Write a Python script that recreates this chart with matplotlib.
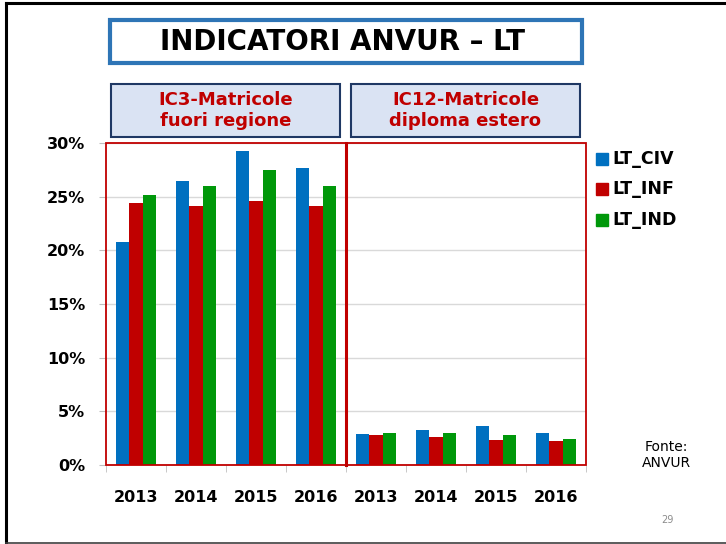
import matplotlib
matplotlib.use("Agg")
import matplotlib.pyplot as plt
from matplotlib.patches import Rectangle
import numpy as np

# ── data ─────────────────────────────────────
years = ["2013", "2014", "2015", "2016"]
series = ["LT_CIV", "LT_INF", "LT_IND"]
ic3_civ = [20.8, 26.5, 29.3, 27.7]
ic3_inf = [24.4, 24.1, 24.6, 24.1]
ic3_ind = [25.2, 26.0, 27.5, 26.0]
ic12_civ = [2.9, 3.3, 3.6, 3.0]
ic12_inf = [2.8, 2.6, 2.3, 2.2]
ic12_ind = [3.0, 3.0, 2.8, 2.4]
yticks = [0, 5, 10, 15, 20, 25, 30]

colors = ["#0070C0", "#C00000", "#00980A"]
W, H = 726, 544

fig = plt.figure(figsize=(W / 100, H / 100), dpi=100, facecolor="white")

def fx(px):
    return px / W

def fy(py):
    return 1 - py / H

# slide frame
fig.add_artist(plt.Line2D([fx(6), fx(6)], [fy(3), fy(543)], color="black", lw=2.2))
fig.add_artist(plt.Line2D([fx(6), 1], [fy(3), fy(3)], color="black", lw=2.2))
fig.add_artist(plt.Line2D([fx(6), 1], [fy(543), fy(543)], color="#404040", lw=1.2))

# ── chart ───────────────────────────────────
ax = fig.add_axes([fx(106), fy(465), fx(586) - fx(106), fy(143) - fy(465)])
labels = years + years
x = np.arange(len(labels))
civ = ic3_civ + ic12_civ
inf = ic3_inf + ic12_inf
ind = ic3_ind + ic12_ind
bw = 0.222
for i, (vals, c) in enumerate(zip([civ, inf, ind], colors)):
    ax.bar(x + (i - 1) * bw, vals, width=bw, color=c, edgecolor="none",
           label=series[i], zorder=3)

ax.set_xlim(-0.5, len(labels) - 0.5)
ax.set_ylim(0, 30)
ax.set_yticks(yticks)
ax.set_yticklabels([f"{v}%" for v in yticks], fontsize=11.5, fontweight="bold")
ax.set_xticks(x)
ax.set_xticklabels(labels, fontsize=11.5, fontweight="bold")
ax.set_xticks(np.arange(-0.5, len(labels)), minor=True)
ax.tick_params(axis="x", which="major", length=0, pad=18)
ax.tick_params(axis="x", which="minor", length=5, color="#BFBFBF")
ax.tick_params(axis="y", length=5, color="#BFBFBF", pad=10)
ax.grid(axis="y", color="#D9D9D9", lw=1, zorder=0)
for sp in ax.spines.values():
    sp.set_visible(False)

# red panels: thin outer edges, thicker shared divider
ax.add_patch(Rectangle((-0.5, 0), 8, 30, fill=False, edgecolor="#C00000",
                       lw=1.3, zorder=4, clip_on=False))
ax.plot([3.5, 3.5], [0, 30], color="#C00000", lw=2.2, zorder=4, clip_on=False)

# legend
leg_y = [159, 189, 220]
for name, c, py in zip(series, colors, leg_y):
    fig.patches.append(Rectangle((fx(596), fy(py) - 6 / H), 12 / W, 12 / H,
                                 transform=fig.transFigure, color=c))
    fig.text(fx(612), fy(py), name, fontsize=12.5, fontweight="bold",
             va="center", ha="left")

# ── title box ───────────────────────────────
fig.patches.append(Rectangle((fx(110), fy(63)), fx(582) - fx(110), fy(20) - fy(63),
                             transform=fig.transFigure, facecolor="white",
                             edgecolor="#2E75B6", lw=3))
fig.text(fx(343), fy(42), "INDICATORI ANVUR – LT", fontsize=20, fontweight="bold",
         ha="center", va="center")

# subtitle boxes
for (l, r), txt in zip([(111, 340), (351, 580)],
                       ["IC3-Matricole\nfuori regione", "IC12-Matricole\ndiploma estero"]):
    fig.patches.append(Rectangle((fx(l), fy(137)), fx(r) - fx(l), fy(84) - fy(137),
                                 transform=fig.transFigure, facecolor="#DAE3F3",
                                 edgecolor="#1F3864", lw=1.5))
    fig.text(fx((l + r) / 2), fy(110.5), txt, fontsize=13, fontweight="bold",
             color="#C00000", ha="center", va="center", linespacing=1.15)

fig.text(fx(666), fy(455), "Fonte:\nANVUR", fontsize=10, ha="center", va="center",
         linespacing=1.1)
fig.text(fx(667), fy(520), "29", fontsize=7, color="#8C8C8C", ha="center", va="center")

fig.savefig("out.png", dpi=100, facecolor="white")
